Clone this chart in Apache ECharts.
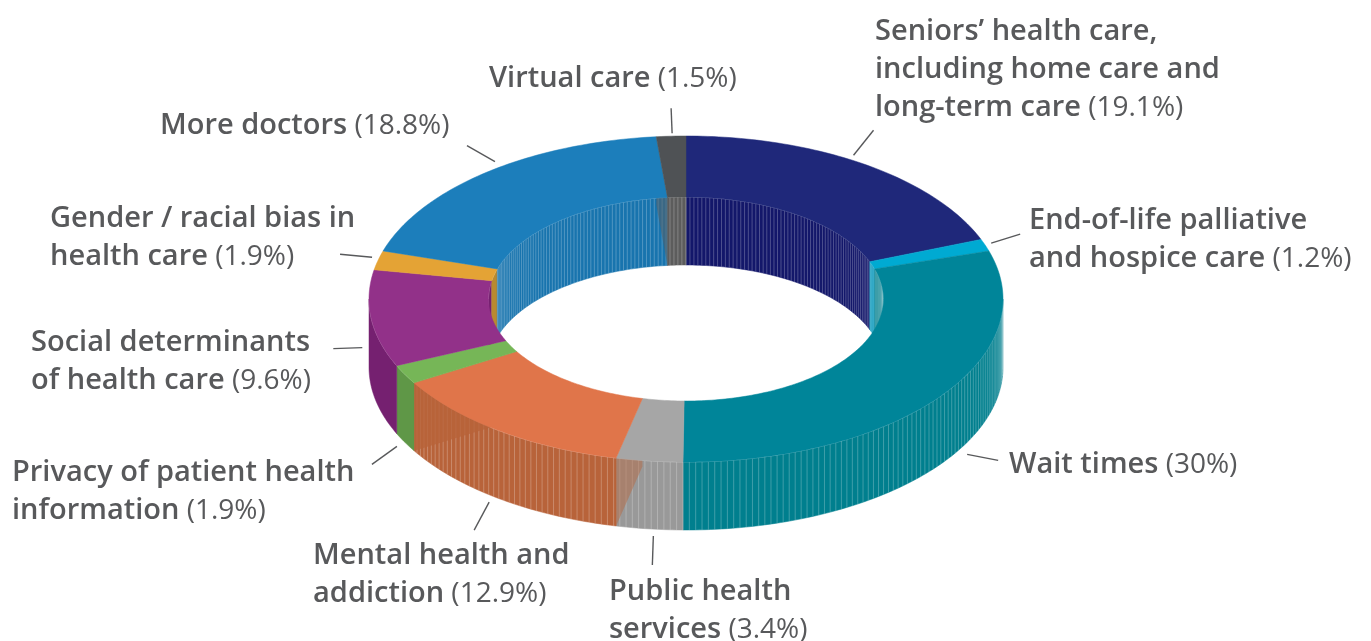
<!DOCTYPE html>
<html>
<head>
<meta charset="utf-8">
<title>Health care priorities</title>
<script src="https://cdn.jsdelivr.net/npm/echarts@6/dist/echarts.min.js"></script>
<style>
html,body{margin:0;padding:0;background:#fff;}
#chart{width:1371px;height:641px;}
</style>
</head>
<body>
<div id="chart"></div>
<script>
// data, clockwise from 12 o'clock
var categories = [
    ['Seniors\u2019 health care,', 'including home care and', 'long-term care'],
    ['End-of-life palliative', 'and hospice care'],
    ['Wait times'],
    ['Public health', 'services'],
    ['Mental health and', 'addiction'],
    ['Privacy of patient health', 'information'],
    ['Social determinants', 'of health care'],
    ['Gender / racial bias in', 'health care'],
    ['More doctors'],
    ['Virtual care']
];
var values = [19.1, 1.2, 30, 3.4, 12.9, 1.9, 9.6, 1.9, 18.8, 1.5];

// colours
var topColors  = ['#1f287a', '#00aad2', '#008599', '#a6a6a6', '#e0754a', '#76b657', '#923189', '#e4a335', '#1c7ebb', '#4f5255'];
var wallColors = ['#13176a', '#0b98bc', '#007f8e', '#999999', '#b8633a', '#5f9747', '#752070', '#b98a30', '#1874ae', '#5c5c5c'];
var stripes    = [true, true, true, true, true, false, false, false, true, true];

// layout of the text: left edge, centre of first line
var labelPos = [[875, 30], [1029, 219], [1009, 463], [609, 590], [313, 554], [12, 471], [31, 341], [50, 217], [160, 124], [489, 77]];
// leader line relative to the slice middle on the rim: start dx,dy then end dx,dy
var leaders = [
    [-11, -9, 9, -34], [6, -2, 35, -11], [27, 58, 58, 64], [4, 75, 3, 104], [-11, 71, -26, 99],
    [-8, 72, -33, 90], [-9, 29, -38, 30], [-6, -3, -38, -6], [9, -11, -19, -27], [1, -3, 0, -28]
];
// slice side faces that show through the walls: slice, which end, opacity
var cutFaces = [[4, 'start', 0.45], [4, 'end', 0.8], [9, 'start', 0.5]];

// ring geometry
var CX = 686, CY = 299;
var RX = 317, RY = 163;
var IRX = 197.5, IRY = 102;
var DEPTH = 68;
var STRIPE_STEP = 1.15;

var total = 0;
for (var i = 0; i < values.length; i++) { total += values[i]; }
var starts = [], ends = [];
var sum = 0;
for (var i = 0; i < values.length; i++) {
    starts.push(sum / total * 360);
    sum += values[i];
    ends.push(sum / total * 360);
}

function pt(rx, ry, deg, dy) {
    var t = deg * Math.PI / 180;
    return [CX + rx * Math.sin(t), CY - ry * Math.cos(t) + (dy || 0)];
}

function arc(rx, ry, a, b, dy) {
    var pts = [];
    var n = Math.max(2, Math.ceil(Math.abs(b - a)));
    for (var k = 0; k <= n; k++) {
        pts.push(pt(rx, ry, a + (b - a) * k / n, dy));
    }
    return pts;
}

// a vertical wall between angles a and b, with the thin light render stripes
function wall(rx, ry, a, b, idx) {
    var kids = [];
    var poly = arc(rx, ry, a, b, 0).concat(arc(rx, ry, b, a, DEPTH));
    kids.push({type: 'polygon', shape: {points: poly}, style: {fill: wallColors[idx], stroke: wallColors[idx], lineWidth: 0.5}});
    if (stripes[idx]) {
        for (var d = Math.ceil(a / STRIPE_STEP) * STRIPE_STEP; d < b; d += STRIPE_STEP) {
            var p = pt(rx, ry, d, 0);
            kids.push({type: 'line', shape: {x1: p[0], y1: p[1], x2: p[0], y2: p[1] + DEPTH},
                style: {stroke: 'rgba(255,255,255,0.28)', lineWidth: 0.9}});
        }
    }
    kids.push({type: 'polyline', shape: {points: arc(rx, ry, a, b, 0)},
        style: {fill: null, stroke: 'rgba(255,255,255,0.4)', lineWidth: 0.8}});
    return kids;
}

// part of slice idx that lies inside the angle range lo..hi
function clip(idx, lo, hi) {
    var a = Math.max(starts[idx], lo), b = Math.min(ends[idx], hi);
    return b > a ? [a, b] : null;
}

function renderInnerWall(params) {
    var idx = params.dataIndex, kids = [];
    var back1 = clip(idx, 0, 90), back2 = clip(idx, 270, 360);
    if (back1) { kids = kids.concat(wall(IRX, IRY, back1[0], back1[1], idx)); }
    if (back2) { kids = kids.concat(wall(IRX, IRY, back2[0], back2[1], idx)); }
    return {type: 'group', children: kids, silent: true};
}

function renderOuterWall(params) {
    var idx = params.dataIndex;
    var front = clip(idx, 90, 270);
    return {type: 'group', children: front ? wall(RX, RY, front[0], front[1], idx) : [], silent: true};
}

function renderCutFace(params) {
    var f = cutFaces[params.dataIndex];
    var deg = f[1] === 'start' ? starts[f[0]] : ends[f[0]];
    return {
        type: 'polygon',
        shape: {points: [pt(RX, RY, deg, 0), pt(IRX, IRY, deg, 0), pt(IRX, IRY, deg, DEPTH), pt(RX, RY, deg, DEPTH)]},
        style: {fill: wallColors[f[0]], opacity: f[2]},
        silent: true
    };
}

function renderTop(params) {
    var idx = params.dataIndex;
    var poly = arc(RX, RY, starts[idx], ends[idx], 0).concat(arc(IRX, IRY, ends[idx], starts[idx], 0));
    return {type: 'polygon', shape: {points: poly}, style: {fill: topColors[idx], stroke: topColors[idx], lineWidth: 0.5}, silent: true};
}

function renderLeader(params) {
    var idx = params.dataIndex;
    var m = pt(RX, RY, (starts[idx] + ends[idx]) / 2, 0);
    var l = leaders[idx];
    return {
        type: 'line',
        shape: {x1: m[0] + l[0], y1: m[1] + l[1], x2: m[0] + l[2], y2: m[1] + l[3]},
        style: {stroke: '#58595b', lineWidth: 1.4},
        silent: true
    };
}

function renderLabel(params) {
    var idx = params.dataIndex;
    var lines = categories[idx].map(function(s) { return '{b|' + s + '}'; });
    lines[lines.length - 1] += '{r| (' + values[idx] + '%)}';
    return {
        type: 'text',
        x: labelPos[idx][0],
        y: labelPos[idx][1] - 17,
        silent: true,
        style: {
            text: lines.join('\n'),
            verticalAlign: 'top',
            rich: {
                b: {fontFamily: 'Open Sans', fontWeight: 600, fontSize: 29, lineHeight: 38, fill: '#58595b'},
                r: {fontFamily: 'Open Sans', fontWeight: 400, fontSize: 28, lineHeight: 38, fill: '#58595b'}
            }
        }
    };
}

function layer(fn, z, data) {
    return {type: 'custom', coordinateSystem: 'none', renderItem: fn, data: data || values, z: z, animation: false, silent: true};
}

var myChart = echarts.init(document.getElementById('chart'), null, {renderer: 'canvas'});
myChart.setOption({
    backgroundColor: '#fff',
    animation: false,
    series: [
        layer(renderInnerWall, 1),
        layer(renderOuterWall, 2),
        layer(renderCutFace, 3, cutFaces.map(function(f, n) { return n; })),
        layer(renderTop, 4),
        layer(renderLeader, 5),
        layer(renderLabel, 6)
    ]
});
</script>
</body>
</html>
